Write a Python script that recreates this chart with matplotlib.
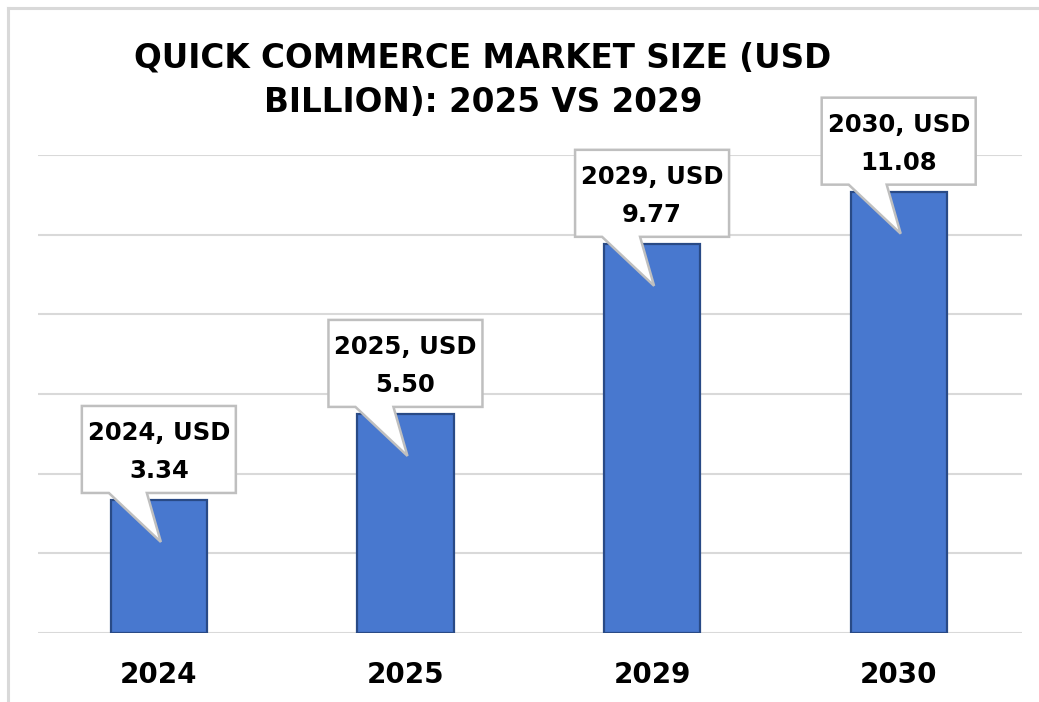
import matplotlib
matplotlib.use("Agg")
import matplotlib.pyplot as plt
import matplotlib.patches as mpatches
import matplotlib.transforms as mtransforms

years = ["2024", "2025", "2029", "2030"]
market_size = [3.34, 5.50, 9.77, 11.08]
callout_text = [f"{y}, USD" for y in years]
value_text = ["3.34", "5.50", "9.77", "11.08"]

BAR_COLOR = "#4878CF"
BAR_EDGE = "#294A86"
GRID = "#D9D9D9"
FONT = "DejaVu Sans"

fig = plt.figure(figsize=(10.39, 7.02), dpi=100)
ax = fig.add_axes([38 / 1039, 69 / 702, 984 / 1039, 478 / 702])

x = list(range(len(years)))
ax.bar(x, market_size, width=0.39, color=BAR_COLOR, edgecolor=BAR_EDGE,
       linewidth=1.6, zorder=3)

ax.set_xlim(-0.49, 3.5)
ax.set_ylim(0, 12)
ax.set_yticks(range(0, 13, 2))
ax.yaxis.grid(True, color=GRID, linewidth=1.5, zorder=0)
ax.tick_params(axis="y", left=False, labelleft=False)
ax.tick_params(axis="x", length=0, pad=20)
ax.set_xticks(x)
ax.set_xticklabels(years, fontsize=20, fontweight="bold", family=FONT)
for s in ax.spines.values():
    s.set_visible(False)

# callout boxes: pixel offsets from the top centre of each bar
shape = [(-77, 7), (-50, 7), (2, -42), (-12, 7), (77, 7), (77, 94), (-77, 94)]
for xi, v, t1, t2 in zip(x, market_size, callout_text, value_text):
    tr = mtransforms.Affine2D() + mtransforms.ScaledTranslation(xi, v, ax.transData)
    poly = mpatches.Polygon(shape, closed=True, facecolor="white",
                            edgecolor="#BFBFBF", linewidth=1.8,
                            transform=tr, clip_on=False, zorder=5)
    ax.add_patch(poly)
    ax.text(0, 67, t1, transform=tr, ha="center", va="center", fontsize=17.5,
            fontweight="bold", family=FONT, zorder=6)
    ax.text(0, 29, t2, transform=tr, ha="center", va="center", fontsize=17.5,
            fontweight="bold", family=FONT, zorder=6)

fig.text(483 / 1039, 1 - 57.5 / 702, "QUICK COMMERCE MARKET SIZE (USD",
         ha="center", va="center", fontsize=23.5, fontweight="bold", family=FONT)
fig.text(483 / 1039, 1 - 102 / 702, "BILLION): 2025 VS 2029",
         ha="center", va="center", fontsize=23.5, fontweight="bold", family=FONT)

# light frame along the top and left edges
fig.add_artist(plt.Line2D([8 / 1039, 8 / 1039], [0, 1 - 8 / 702],
                          transform=fig.transFigure, color=GRID, linewidth=2.2))
fig.add_artist(plt.Line2D([8 / 1039, 1], [1 - 8 / 702, 1 - 8 / 702],
                          transform=fig.transFigure, color=GRID, linewidth=2.2))

fig.savefig("out.png", dpi=100)
